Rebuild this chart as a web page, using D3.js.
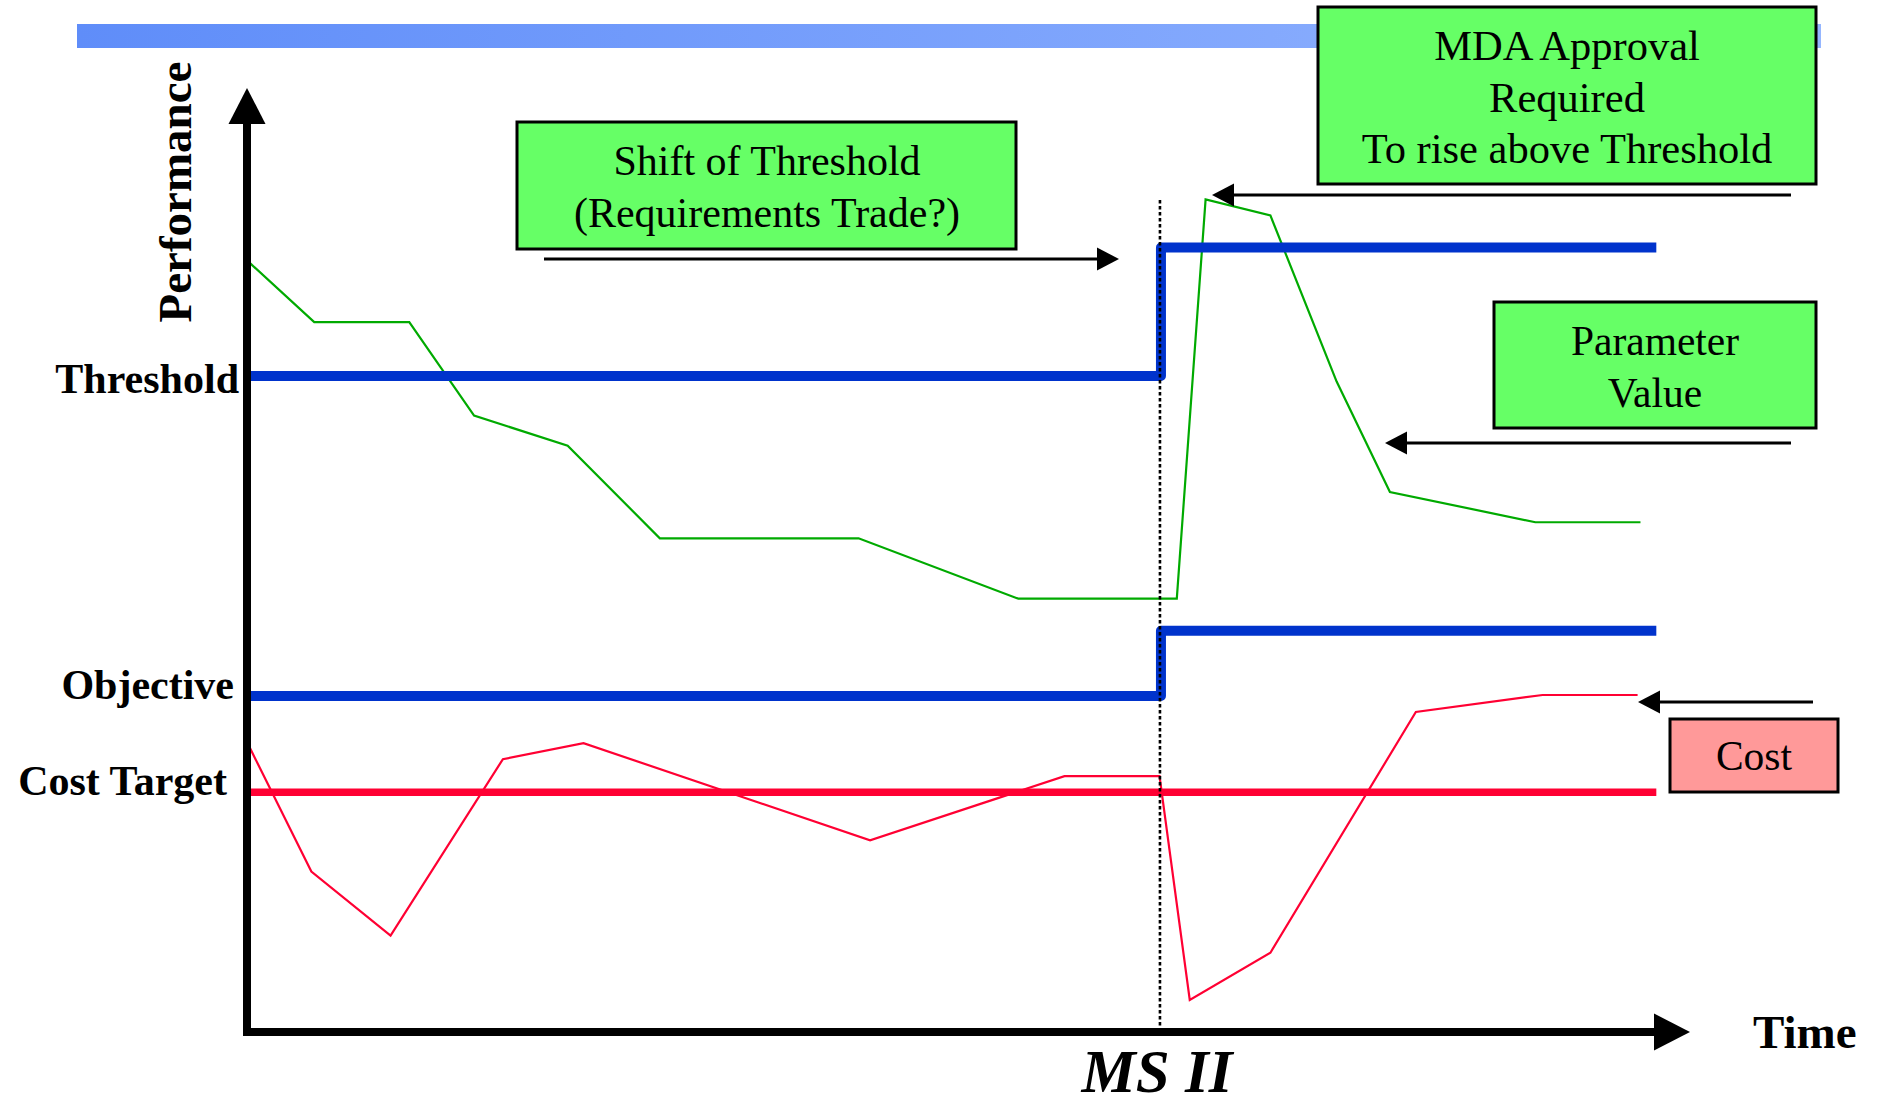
<!DOCTYPE html>
<html>
<head>
<meta charset="utf-8">
<script src="https://cdn.jsdelivr.net/npm/d3@7/dist/d3.min.js"></script>
<style>
  html, body { margin: 0; padding: 0; background: #ffffff; }
  svg { display: block; }
  text { font-family: "Liberation Serif", "Times New Roman", serif; fill: #000; }
</style>
</head>
<body>
<svg id="chart" width="1881" height="1107"></svg>
<script>
// ---------------- DATA (time 0-100, performance 0-100) ----------------
const parameterValue = [
  [0.1, 81.5], [4.6, 75.2], [11.2, 75.2], [15.7, 65.3], [22.2, 62.1],
  [28.6, 52.3], [42.4, 52.3], [53.5, 45.9], [64.5, 45.9], [66.5, 88.2],
  [71.0, 86.5], [75.6, 68.9], [79.3, 57.2], [89.4, 54.0], [96.7, 54.0]
];
const costValue = [
  [0.0, 30.5], [4.4, 17.0], [9.9, 10.2], [17.7, 28.9], [23.3, 30.6],
  [43.2, 20.3], [56.7, 27.1], [63.3, 27.1], [65.4, 3.4], [71.0, 8.4],
  [81.1, 33.9], [89.9, 35.7], [96.5, 35.7]
];
const milestoneX = 63.4;
const milestoneLabel = "MS II";
const lineStart = 0.1;
const lineEnd = 97.8;
const thresholdLevels = [69.5, 83.1];   // before / after MS II
const objectiveLevels = [35.6, 42.5];   // before / after MS II
const costTargetLevel = 25.4;
const levelLabels = ["Threshold", "Objective", "Cost Target"];
const yAxisTitle = "Performance";
const xAxisTitle = "Time";
const shiftText = ["Shift of Threshold", "(Requirements Trade?)"];
const mdaText = ["MDA Approval", "Required", "To rise above Threshold"];
const paramText = ["Parameter", "Value"];
const costText = ["Cost"];

// ---------------- SCALES ----------------
const svg = d3.select("#chart");
const x = d3.scaleLinear().domain([0, 100]).range([248, 1688]);
const y = d3.scaleLinear().domain([0, 100]).range([1032, 88]);
const line = d3.line().x(d => x(d[0])).y(d => y(d[1]));

// ---------------- TOP GRADIENT BAR ----------------
const defs = svg.append("defs");
const grad = defs.append("linearGradient").attr("id", "barGrad")
  .attr("x1", "0%").attr("x2", "100%").attr("y1", "0%").attr("y2", "0%");
grad.append("stop").attr("offset", "0%").attr("stop-color", "#5F8DF9");
grad.append("stop").attr("offset", "100%").attr("stop-color", "#95B6FF");
svg.append("rect").attr("x", 77).attr("y", 24).attr("width", 1744).attr("height", 24)
  .attr("fill", "url(#barGrad)");

// ---------------- SERIES ----------------
svg.append("path").datum(parameterValue).attr("d", line)
  .attr("fill", "none").attr("stroke", "#00AA00").attr("stroke-width", 2.2)
  .attr("stroke-linejoin", "miter");
svg.append("path").datum(costValue).attr("d", line)
  .attr("fill", "none").attr("stroke", "#FF0033").attr("stroke-width", 2.2);

function stepLine(levels) {
  return [[lineStart, levels[0]], [milestoneX, levels[0]], [milestoneX, levels[1]], [lineEnd, levels[1]]];
}
svg.append("path").datum(stepLine(thresholdLevels)).attr("d", line)
  .attr("fill", "none").attr("stroke", "#0033CC").attr("stroke-width", 10)
  .attr("stroke-linejoin", "round");
svg.append("path").datum(stepLine(objectiveLevels)).attr("d", line)
  .attr("fill", "none").attr("stroke", "#0033CC").attr("stroke-width", 10)
  .attr("stroke-linejoin", "round");
svg.append("path").datum([[0, costTargetLevel], [lineEnd, costTargetLevel]]).attr("d", line)
  .attr("fill", "none").attr("stroke", "#FF0033").attr("stroke-width", 7.5);

// milestone dotted line
svg.append("line")
  .attr("x1", x(milestoneX) - 1).attr("x2", x(milestoneX) - 1)
  .attr("y1", 200).attr("y2", y(0) - 3)
  .attr("stroke", "#000").attr("stroke-width", 2.6).attr("stroke-dasharray", "3.4,2.6");

// ---------------- AXES ----------------
const ax0 = x(0) - 1, ay0 = y(0);
svg.append("line").attr("x1", ax0).attr("x2", ax0).attr("y1", ay0 + 4).attr("y2", y(100) + 34)
  .attr("stroke", "#000").attr("stroke-width", 8);
svg.append("path")
  .attr("d", `M${ax0},${y(100)} L${ax0 + 18.5},${y(100) + 36} L${ax0 - 18.5},${y(100) + 36} Z`)
  .attr("fill", "#000");
svg.append("line").attr("x1", ax0 - 4).attr("x2", x(100) - 34).attr("y1", ay0).attr("y2", ay0)
  .attr("stroke", "#000").attr("stroke-width", 8);
svg.append("path")
  .attr("d", `M${x(100) + 2},${ay0} L${x(100) - 34},${ay0 - 18.5} L${x(100) - 34},${ay0 + 18.5} Z`)
  .attr("fill", "#000");

// axis titles
svg.append("text").attr("transform", "translate(191,192) rotate(-90)")
  .attr("text-anchor", "middle").attr("font-size", 47).attr("font-weight", "bold").text(yAxisTitle);
svg.append("text").attr("x", 1753).attr("y", 1048)
  .attr("font-size", 47).attr("font-weight", "bold").text(xAxisTitle);
svg.append("text").attr("x", x(milestoneX) - 4).attr("y", 1092).attr("text-anchor", "middle")
  .attr("font-size", 61).attr("font-weight", "bold").attr("font-style", "italic").text(milestoneLabel);

// level labels
const labelPos = [
  { t: levelLabels[0], x: 239, y: y(thresholdLevels[0]) + 17 },
  { t: levelLabels[1], x: 234, y: y(objectiveLevels[0]) + 3 },
  { t: levelLabels[2], x: 227, y: y(costTargetLevel) + 3 }
];
svg.selectAll("text.lvl").data(labelPos).enter().append("text").attr("class", "lvl")
  .attr("x", d => d.x).attr("y", d => d.y).attr("text-anchor", "end")
  .attr("font-size", 42).attr("font-weight", "bold").text(d => d.t);

// ---------------- ANNOTATIONS ----------------
function box(x0, y0, x1, y1, fill, lines, cx, baselines, fs) {
  svg.append("rect").attr("x", x0).attr("y", y0).attr("width", x1 - x0).attr("height", y1 - y0)
    .attr("fill", fill).attr("stroke", "#000").attr("stroke-width", 3);
  lines.forEach((t, i) => {
    svg.append("text").attr("x", cx).attr("y", baselines[i]).attr("text-anchor", "middle")
      .attr("font-size", fs).text(t);
  });
}
function arrow(xFrom, xTip, yy) {
  const dir = xTip > xFrom ? 1 : -1;
  svg.append("line").attr("x1", xFrom).attr("x2", xTip - dir * 20).attr("y1", yy).attr("y2", yy)
    .attr("stroke", "#000").attr("stroke-width", 3);
  svg.append("path")
    .attr("d", `M${xTip},${yy} L${xTip - dir * 22},${yy - 11.5} L${xTip - dir * 22},${yy + 11.5} Z`)
    .attr("fill", "#000");
}

box(517, 122, 1016, 249, "#66FF66", shiftText, 767, [175, 227], 42);
arrow(544, 1119, 259);

box(1318, 7, 1816, 184, "#66FF66", mdaText, 1567, [60, 112, 163], 42.5);
arrow(1791, 1212, 195);

box(1494, 302, 1816, 428, "#66FF66", paramText, 1655, [355, 407], 41.5);
arrow(1791, 1385, 443);

box(1670, 719, 1838, 792, "#FF9999", costText, 1754, [770], 41.5);
arrow(1813, 1638, 702);
</script>
</body>
</html>
